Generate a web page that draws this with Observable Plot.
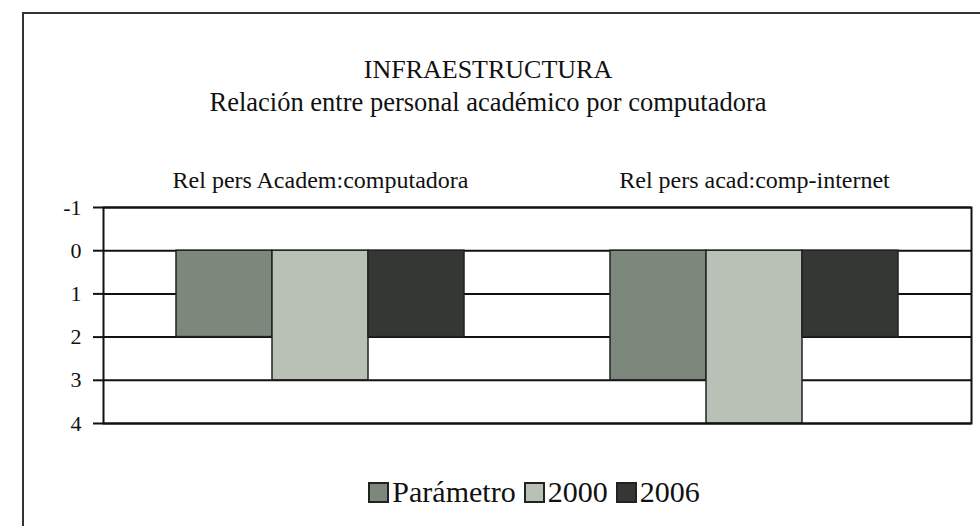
<!DOCTYPE html>
<html>
<head>
<meta charset="utf-8">
<script src="https://cdn.jsdelivr.net/npm/d3@7"></script>
<script src="https://cdn.jsdelivr.net/npm/@observablehq/plot@0.6"></script>
<style>
  html, body { margin: 0; padding: 0; background: #fff; }
  #wrap { position: relative; width: 980px; height: 526px; overflow: hidden; background: #fff;
          font-family: "Liberation Serif", "Times New Roman", serif; color: #111; }
  #border { position: absolute; left: 22px; top: 12px; width: 1000px; height: 600px;
            border-left: 2px solid #333; border-top: 2px solid #333; }
  .t { position: absolute; left: 0; width: 976px; text-align: center; white-space: nowrap; line-height: 1; }
  #title { top: 57px; font-size: 26px; }
  #subtitle { top: 89px; font-size: 26.5px; }
  #chart { position: absolute; left: 0; top: 150px; }
  #legend { position: absolute; top: 477px; left: 0; width: 1068px; text-align: center; font-size: 30px; white-space: nowrap; line-height: 1; }
  #legend span.item { margin: 0 4px; }
  #legend span.sw { display: inline-block; width: 17px; height: 17px; border: 2px solid #222; margin-right: 3px; vertical-align: -1px; }
</style>
</head>
<body>
<div id="wrap">
  <div id="border"></div>
  <div class="t" id="title">INFRAESTRUCTURA</div>
  <div class="t" id="subtitle">Relación entre personal académico por computadora</div>
  <div id="chart"></div>
  <div id="legend"></div>
</div>
<script>
// ---- data ----
const groups = ["Rel pers Academ:computadora", "Rel pers acad:comp-internet"];
const series = ["Parámetro", "2000", "2006"];
const valParametro = [2, 3];
const val2000 = [3, 4];
const val2006 = [2, 2];
const yTicks = [-1, 0, 1, 2, 3, 4];
const colors = ["#7c887c", "#b9c0b6", "#353832"];

const seriesValues = [valParametro, val2000, val2006];
const table = [];
groups.forEach((g, gi) => {
  series.forEach((s, si) => {
    table.push({group: g, series: s, value: seriesValues[si][gi]});
  });
});

const font = "'Liberation Serif', 'Times New Roman', serif";

const chart = Plot.plot({
  width: 980,
  height: 293,
  marginLeft: 103,
  marginRight: 9,
  marginTop: 57,
  marginBottom: 20,
  style: {fontFamily: font, background: "transparent", color: "#111"},
  fx: {domain: groups, padding: 0, label: null},
  x: {domain: series, paddingInner: 0, paddingOuter: 0.74, axis: null},
  y: {domain: [-1, 4], reverse: true, label: null},
  color: {domain: series, range: colors},
  marks: [
    Plot.ruleY(yTicks, {stroke: "#111", strokeWidth: 2}),
    Plot.barY(table, {fx: "group", x: "series", y1: 0, y2: "value", fill: "series", stroke: "#222", strokeWidth: 1.5}),
    Plot.frame({facet: "super", stroke: "#111", strokeWidth: 2}),
    Plot.axisFx({anchor: "top", tickSize: 0, tickPadding: 20, fontSize: 24, label: null}),
    Plot.axisY({ticks: yTicks, tickSize: 10, tickPadding: 12, fontSize: 22, tickFormat: d => String(d), label: null, strokeWidth: 2})
  ]
});
document.getElementById("chart").appendChild(chart);

// legend
const leg = document.getElementById("legend");
series.forEach((s, i) => {
  const item = document.createElement("span");
  item.className = "item";
  const sw = document.createElement("span");
  sw.className = "sw";
  sw.style.background = colors[i];
  item.appendChild(sw);
  item.appendChild(document.createTextNode(s));
  leg.appendChild(item);
});
</script>
</body>
</html>
